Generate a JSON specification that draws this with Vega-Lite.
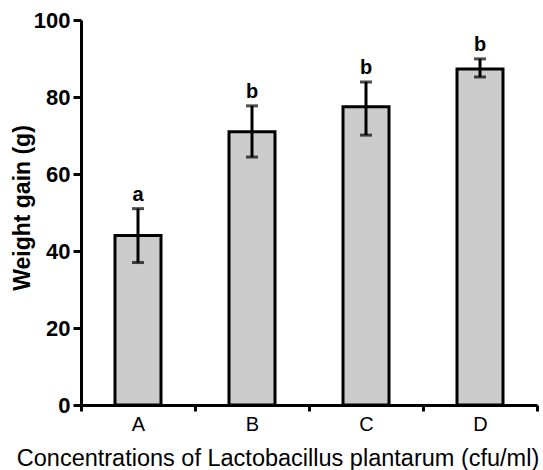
{
  "$schema": "https://vega.github.io/schema/vega-lite/v6.json",
  "width": 456,
  "height": 385,
  "autosize": {"type": "none"},
  "padding": {"left": 81, "top": 20, "right": 6, "bottom": 65},
  "background": "white",
  "config": {
    "view": {"stroke": null},
    "font": "Liberation Sans"
  },
  "data": {
    "values": [
      {"group": "A", "mean": 44, "lo": 37, "hi": 51, "sig": "a"},
      {"group": "B", "mean": 71, "lo": 64.4, "hi": 77.7, "sig": "b"},
      {"group": "C", "mean": 77.5, "lo": 70.1, "hi": 83.9, "sig": "b"},
      {"group": "D", "mean": 87.3, "lo": 85.2, "hi": 89.9, "sig": "b"}
    ]
  },
  "encoding": {
    "x": {
      "field": "group",
      "type": "nominal",
      "scale": {"paddingInner": 0, "paddingOuter": 0},
      "axis": {
        "title": "Concentrations of Lactobacillus plantarum (cfu/ml)",
        "titleFontSize": 23.5,
        "titleFontWeight": "normal",
        "titleColor": "black",
        "titleX": 196.5,
        "titleY": 60,
        "titleAlign": "center",
        "titleBaseline": "alphabetic",
        "labelAngle": 0,
        "labelFontSize": 20,
        "labelColor": "black",
        "labelPadding": 3,
        "tickBand": "extent",
        "domainColor": "black",
        "domainWidth": 3,
        "tickColor": "black",
        "tickWidth": 3,
        "tickSize": 6
      }
    }
  },
  "layer": [
    {
      "mark": {"type": "bar", "size": 46, "fill": "#cccccc", "stroke": "black", "strokeWidth": 3},
      "encoding": {
        "y": {
          "field": "mean",
          "type": "quantitative",
          "scale": {"domain": [0, 100], "nice": false},
          "axis": {
            "title": "Weight gain (g)",
            "titleFontSize": 23,
            "titleFontWeight": "bold",
            "titleColor": "black",
            "titleAngle": -90,
            "titleX": -52,
            "titleY": 187.5,
            "titleAlign": "center",
            "titleBaseline": "alphabetic",
            "values": [0, 20, 40, 60, 80, 100],
            "grid": false,
            "labelFontSize": 22,
            "labelFontWeight": "bold",
            "labelColor": "black",
            "labelPadding": 3,
            "domainColor": "black",
            "domainWidth": 3,
            "tickColor": "black",
            "tickWidth": 3,
            "tickSize": 8
          }
        }
      }
    },
    {
      "mark": {"type": "rule", "color": "black", "strokeWidth": 3},
      "encoding": {
        "y": {"field": "lo", "type": "quantitative"},
        "y2": {"field": "hi"}
      }
    },
    {
      "mark": {"type": "tick", "color": "black", "thickness": 3, "size": 12},
      "encoding": {
        "y": {"field": "lo", "type": "quantitative"}
      }
    },
    {
      "mark": {"type": "tick", "color": "black", "thickness": 3, "size": 12},
      "encoding": {
        "y": {"field": "hi", "type": "quantitative"}
      }
    },
    {
      "mark": {"type": "text", "fontSize": 20, "fontWeight": "bold", "color": "black", "baseline": "alphabetic", "dy": -8},
      "encoding": {
        "y": {"field": "hi", "type": "quantitative"},
        "text": {"field": "sig"}
      }
    }
  ]
}
